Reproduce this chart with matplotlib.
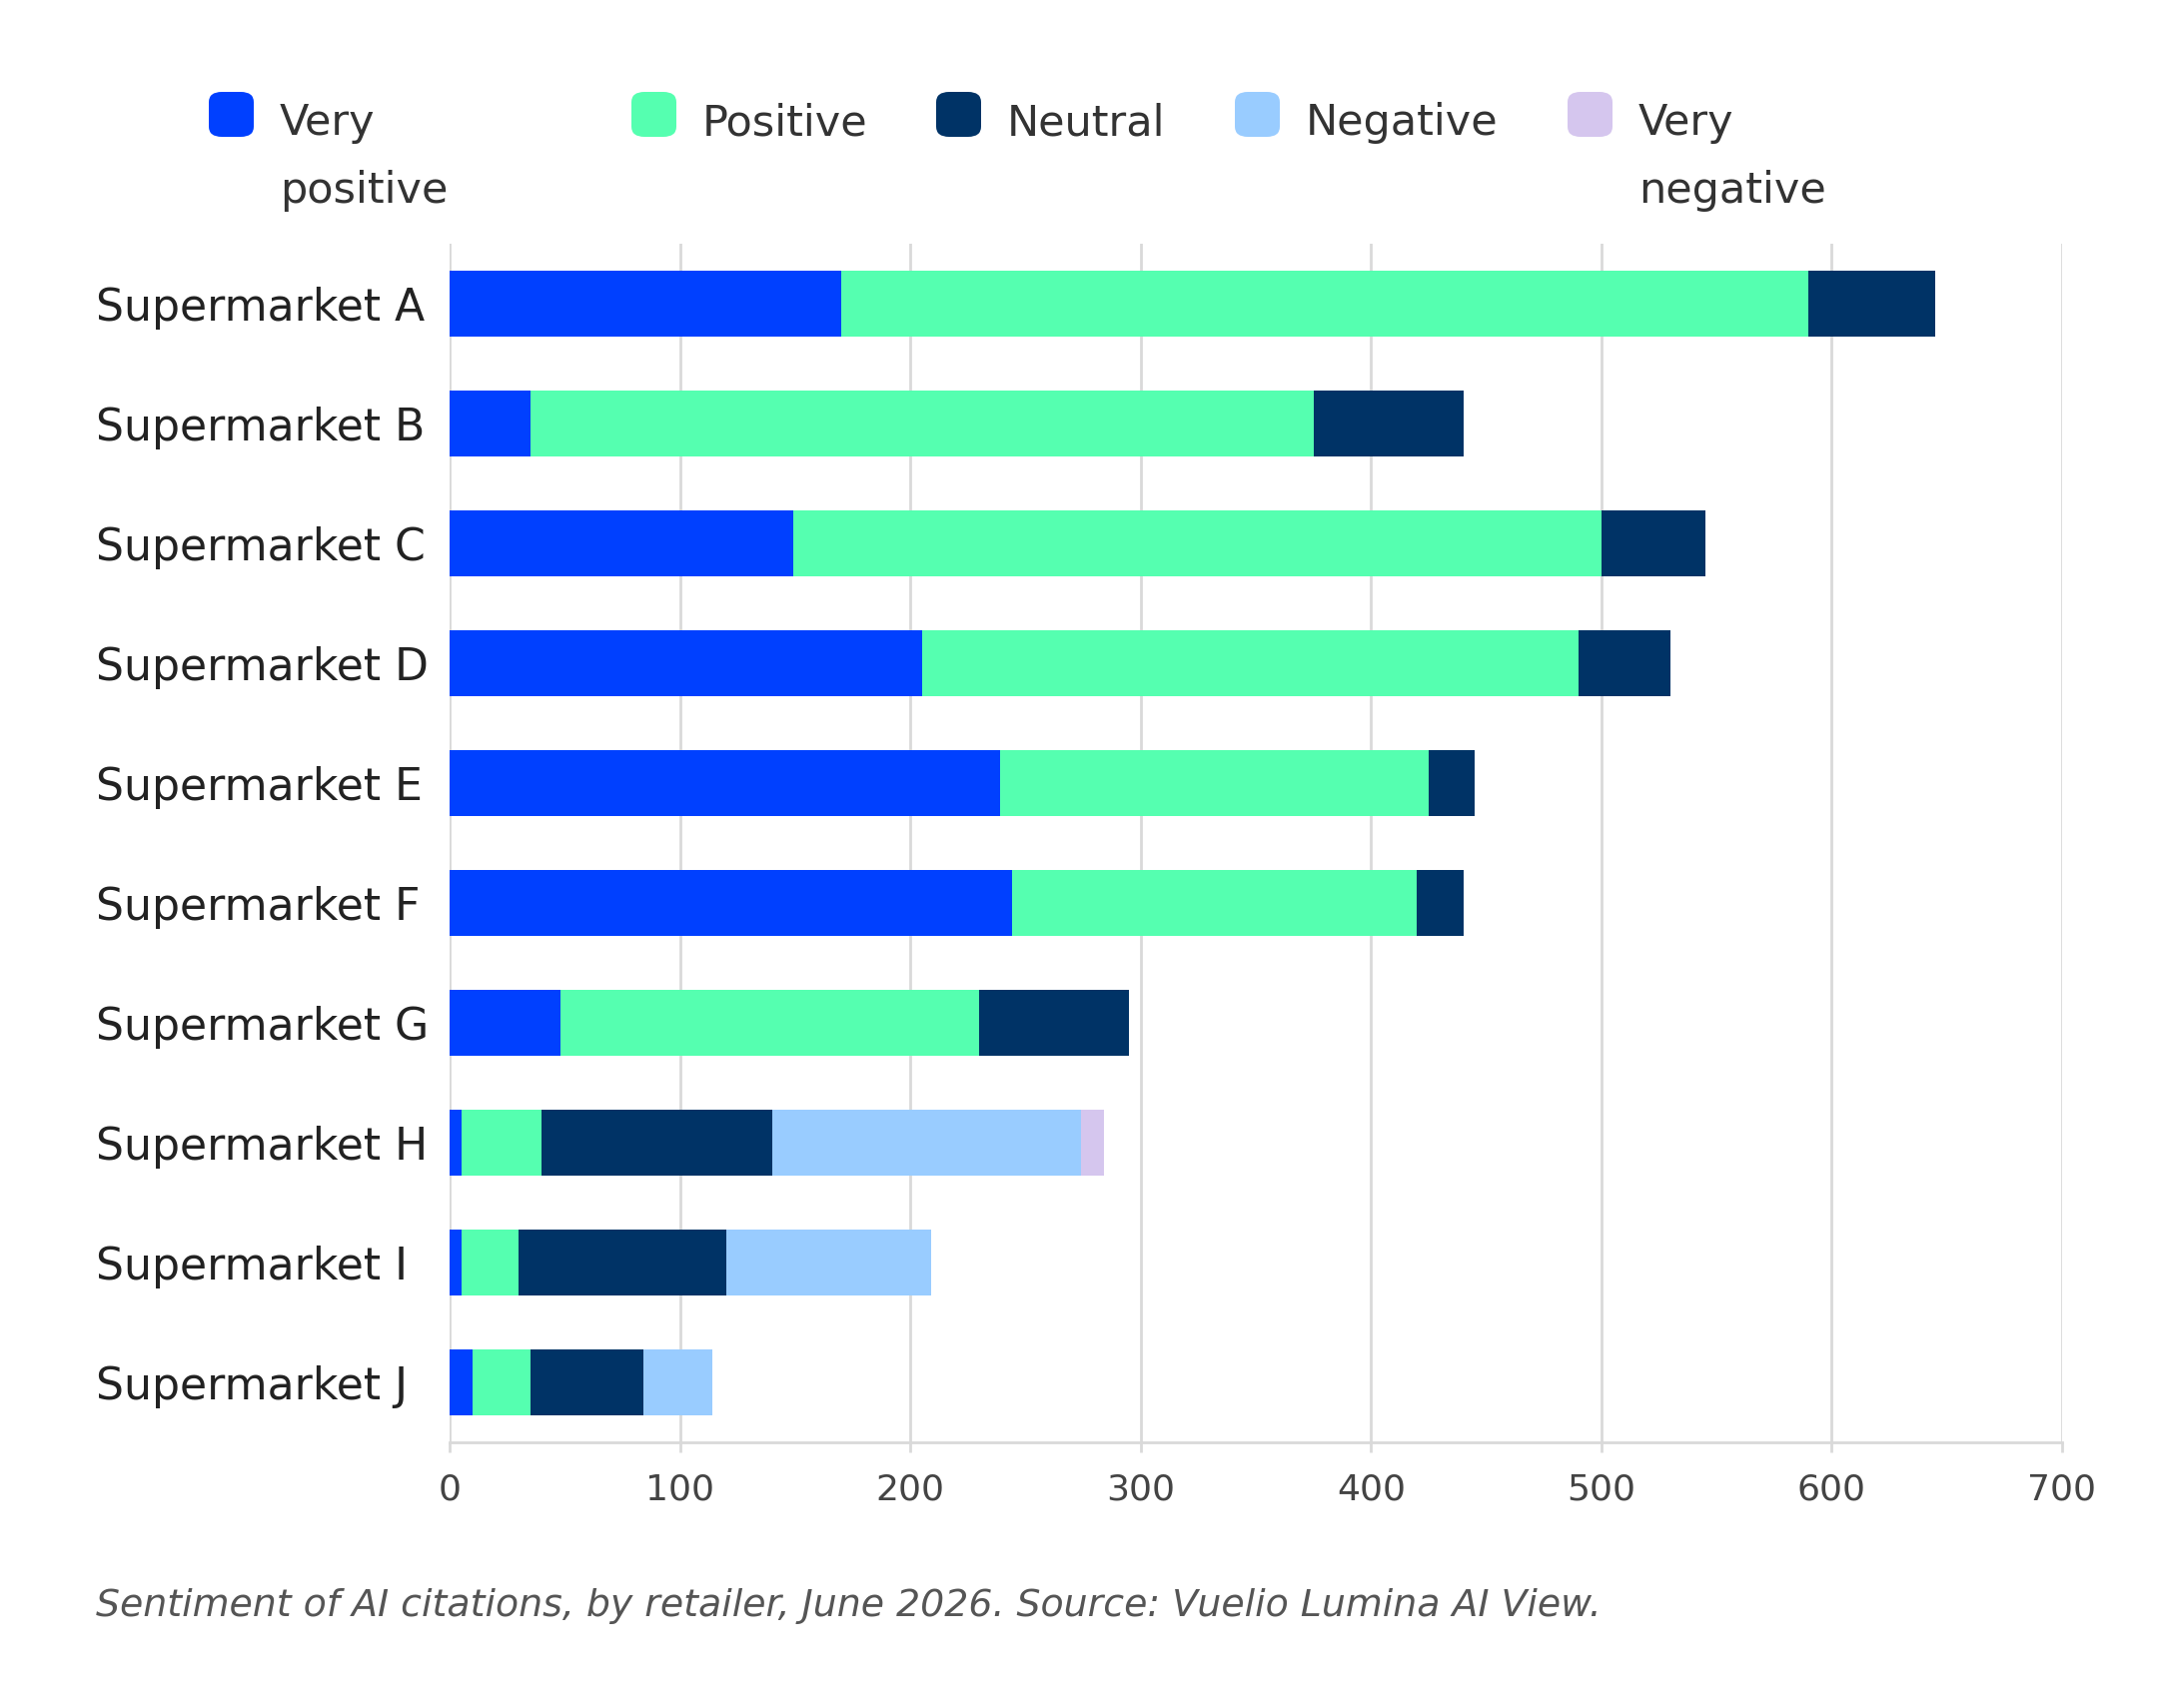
import matplotlib
matplotlib.use("Agg")
import matplotlib.pyplot as plt
import numpy as np
from matplotlib.patches import FancyBboxPatch

# data
retailers = ["Supermarket A", "Supermarket B", "Supermarket C", "Supermarket D",
             "Supermarket E", "Supermarket F", "Supermarket G", "Supermarket H",
             "Supermarket I", "Supermarket J"]
very_positive = [170, 35, 149, 205, 239, 244, 48, 5, 5, 10]
positive = [420, 340, 351, 285, 186, 176, 182, 35, 25, 25]
neutral = [55, 65, 45, 40, 20, 20, 65, 100, 90, 49]
negative = [0, 0, 0, 0, 0, 0, 0, 134, 89, 30]
very_negative = [0, 0, 0, 0, 0, 0, 0, 10, 0, 0]

series_names = ["Very\npositive", "Positive", "Neutral", "Negative", "Very\nnegative"]
colors = ["#0040FF", "#55FFB0", "#003366", "#99CCFF", "#D5C6EE"]
xticks = [0, 100, 200, 300, 400, 500, 600, 700]
note = "Sentiment of AI citations, by retailer, June 2026. Source: Vuelio Lumina AI View."

plt.rcParams['font.family'] = ['DejaVu Sans']

W, H = 2160, 1710
fig = plt.figure(figsize=(W / 100, H / 100), dpi=100)
ax = fig.add_axes([450 / W, 1 - 1444 / H, (2064 - 450) / W, (1444 - 244) / H])

series = [very_positive, positive, neutral, negative, very_negative]
y = np.arange(len(retailers))
left = np.zeros(len(retailers))
for vals, c in zip(series, colors):
    vals = np.array(vals, dtype=float)
    ax.barh(y, vals, left=left, height=0.55, color=c, linewidth=0, zorder=3)
    left += vals

ax.set_ylim(len(retailers) - 0.5, -0.5)
ax.set_xlim(0, 700)
ax.set_xticks(xticks)
ax.set_xticklabels([str(t) for t in xticks])
ax.set_yticks(y)
ax.set_yticklabels(retailers)

ax.grid(axis="x", color="#d9d9d9", linewidth=2, zorder=0)
ax.grid(axis="y", visible=False)
for s in ["top", "right", "left"]:
    ax.spines[s].set_visible(False)
ax.spines["bottom"].set_color("#d9d9d9")
ax.spines["bottom"].set_linewidth(2)

ax.tick_params(axis="x", colors="#d9d9d9", length=7, width=2, labelsize=26,
               labelcolor="#444444", pad=15)
ax.tick_params(axis="y", length=0, labelsize=31.8, labelcolor="#222222", pad=255)
for lab in ax.get_yticklabels():
    lab.set_horizontalalignment("left")

# legend drawn by hand, spacing follows the reference
leg_x = [209, 632, 937, 1236, 1569]
for name, c, lx in zip(series_names, colors, leg_x):
    box = FancyBboxPatch((lx / W, 1 - 137 / H), 45 / W, 45 / H,
                         boxstyle="round,pad=0,rounding_size=0.006",
                         transform=fig.transFigure, facecolor=c, edgecolor="none")
    fig.add_artist(box)
    for i, line in enumerate(name.split("\n")):
        fig.text((lx + 71) / W, 1 - (135 + 67.5 * i) / H, line, ha="left",
                 va="baseline", fontsize=31, color="#333333")

fig.text(96 / W, 1 - 1608 / H, note, ha="left", va="center", fontsize=27.3,
         style="italic", color="#555555")

fig.savefig("out.png", dpi=100, facecolor="white")
